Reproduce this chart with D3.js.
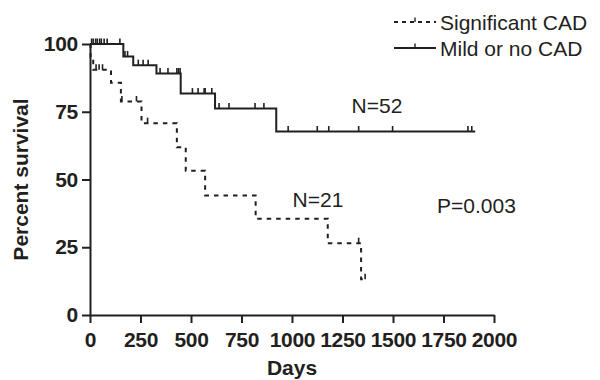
<!DOCTYPE html>
<html>
<head>
<meta charset="utf-8">
<script src="https://cdn.jsdelivr.net/npm/d3@7"></script>
<style>
  body { margin: 0; background: #fff; }
  svg { display: block; }
  text { font-family: Arial, "Liberation Sans", sans-serif; fill: #231f20; }
</style>
</head>
<body>
<div id="chart"></div>
<script>
// axis ticks
var xTicks = [0, 250, 500, 750, 1000, 1250, 1500, 1750, 2000];
var yTicks = [0, 25, 50, 75, 100];

// Mild or no CAD (N=52): step times / survival, censored days
var mildTimes = [0, 165, 214, 329, 449, 619, 922, 1907];
var mildSurv = [100, 95.4, 92.2, 89.1, 81.7, 76.2, 67.7, 67.7];
var mildCensor = [8, 16, 28, 36, 48, 56, 70, 85, 148, 173, 186, 239, 263, 288,
  347, 386, 430, 438, 446, 507, 535, 565, 570, 603, 639, 688, 817, 861,
  981, 1125, 1182, 1330, 1498, 1871, 1890];

// Significant CAD (N=21)
var sigTimes = [0, 3, 16, 104, 153, 255, 430, 474, 570, 820, 1177, 1342, 1362];
var sigSurv = [100, 95.2, 90.5, 85.7, 78.8, 70.8, 61.9, 53.2, 44.1, 35.5, 26.5, 13.2, 13.2];
var sigCensor = [30, 45, 62, 158, 230, 285, 1330, 1362];

var W = 600, H = 380;
var ink = "#231f20";

var svg = d3.select("#chart").append("svg").attr("width", W).attr("height", H);

var x = d3.scaleLinear().domain([0, 2000]).range([90, 494]);
var y = d3.scaleLinear().domain([0, 100]).range([315, 44]);

// axes
var xAxis = d3.axisBottom(x).tickValues(xTicks).tickFormat(d3.format("d"))
  .tickSize(8).tickSizeOuter(0).tickPadding(9);
var yAxis = d3.axisLeft(y).tickValues(yTicks).tickSize(8).tickSizeOuter(0).tickPadding(4);

var gx = svg.append("g").attr("transform", "translate(0," + y(0) + ")").call(xAxis);
var gy = svg.append("g").attr("transform", "translate(" + x(0) + ",0)").call(yAxis);
[gx, gy].forEach(function (g) {
  g.select(".domain").attr("stroke", ink).attr("stroke-width", 2);
  g.selectAll(".tick line").attr("stroke", ink).attr("stroke-width", 2);
  g.selectAll(".tick text").attr("font-size", 21).attr("font-weight", "bold")
    .attr("letter-spacing", -0.3)
    .attr("font-family", "Arial, 'Liberation Sans', sans-serif").attr("fill", ink);
});

// axis titles
svg.append("text").attr("x", x(1000)).attr("y", 375).attr("text-anchor", "middle")
  .attr("font-size", 21).attr("font-weight", "bold").text("Days");
svg.append("text").attr("transform", "translate(28," + y(50) + ") rotate(-90)")
  .attr("text-anchor", "middle").attr("font-size", 21).attr("font-weight", "bold")
  .text("Percent survival");

var line = d3.line().curve(d3.curveStepAfter)
  .x(function (d) { return x(d[0]); })
  .y(function (d) { return y(d[1]); });

function levelAt(times, surv, t) {
  var i = d3.bisectRight(times, t) - 1;
  return surv[Math.max(0, Math.min(i, surv.length - 1))];
}

function drawCurve(times, surv, censor, dash) {
  var pts = times.map(function (t, i) { return [t, surv[i]]; });
  svg.append("path").datum(pts).attr("d", line)
    .attr("fill", "none").attr("stroke", ink).attr("stroke-width", 2)
    .attr("stroke-dasharray", dash);
  svg.selectAll(null).data(censor).enter().append("line")
    .attr("x1", function (d) { return x(d); })
    .attr("x2", function (d) { return x(d); })
    .attr("y1", function (d) { return y(levelAt(times, surv, d)); })
    .attr("y2", function (d) { return y(levelAt(times, surv, d)) - 5.5; })
    .attr("stroke", ink).attr("stroke-width", 1.6);
}

drawCurve(mildTimes, mildSurv, mildCensor, null);
drawCurve(sigTimes, sigSurv, sigCensor, "4.5,5");

// annotations
svg.append("text").attr("x", 377).attr("y", 113).attr("text-anchor", "middle")
  .attr("font-size", 21).text("N=52");
svg.append("text").attr("x", 318).attr("y", 207).attr("text-anchor", "middle")
  .attr("font-size", 21).text("N=21");
svg.append("text").attr("x", 437).attr("y", 213).attr("font-size", 21).text("P=0.003");

// legend
var legend = [
  { label: "Significant CAD", dash: "4,4", y: 22 },
  { label: "Mild or no CAD", dash: null, y: 48 }
];
legend.forEach(function (d) {
  svg.append("line").attr("x1", 394).attr("x2", 436).attr("y1", d.y).attr("y2", d.y)
    .attr("stroke", ink).attr("stroke-width", 1.8).attr("stroke-dasharray", d.dash);
  svg.append("line").attr("x1", 415).attr("x2", 415).attr("y1", d.y).attr("y2", d.y - 4.5)
    .attr("stroke", ink).attr("stroke-width", 1.4);
  svg.append("text").attr("x", 440).attr("y", d.y + 7.5).attr("font-size", 21).text(d.label);
});
</script>
</body>
</html>
